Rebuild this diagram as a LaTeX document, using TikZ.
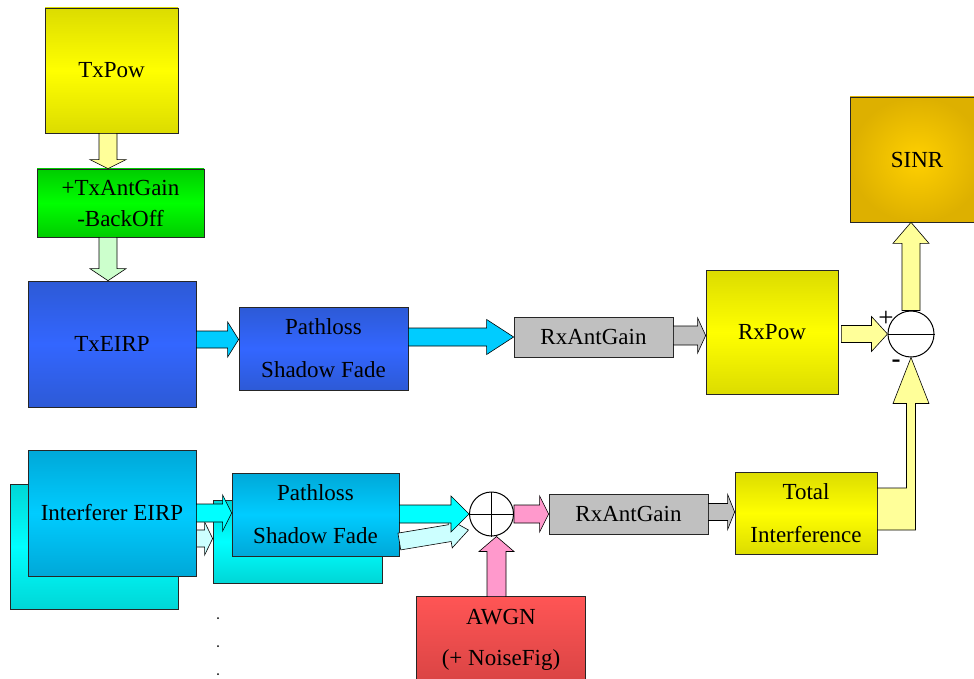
\documentclass[tikz,border=0pt]{standalone}
\usepackage{fontspec}
\setmainfont{Liberation Serif}
\usetikzlibrary{calc}

% box colours (edge / middle of each gradient)
\definecolor{yelE}{HTML}{DCDC00}
\definecolor{yelM}{HTML}{FFFF00}
\definecolor{grnE}{HTML}{00CC00}
\definecolor{grnM}{HTML}{00FF00}
\definecolor{bluE}{HTML}{2D5AD6}
\definecolor{bluM}{HTML}{3366FF}
\definecolor{skyE}{HTML}{00A8D8}
\definecolor{skyM}{HTML}{00CCFF}
\definecolor{cyaE}{HTML}{00D6D6}
\definecolor{cyaM}{HTML}{00FFFF}
\definecolor{redT}{HTML}{FF5555}
\definecolor{redB}{HTML}{D94444}
\definecolor{golE}{HTML}{DDB000}
\definecolor{golM}{HTML}{FFD000}
\definecolor{grayF}{HTML}{C0C0C0}
% arrow fills
\definecolor{paleY}{HTML}{FFFF99}
\definecolor{paleG}{HTML}{CCFFCC}
\definecolor{aqua}{HTML}{00CCFF}
\definecolor{cyanF}{HTML}{00FFFF}
\definecolor{paleC}{HTML}{CCFFFF}
\definecolor{pinkF}{HTML}{FF99CC}

% block arrow: style, start, end, shaft half width, head half width, head length
\newcommand\blockarrow[6]{%
  \coordinate (ba-s) at #2;
  \coordinate (ba-e) at #3;
  \coordinate (ba-h) at ($(ba-e)!#6!(ba-s)$);
  \draw[#1] ($(ba-s)!#4!90:(ba-e)$) -- ($(ba-h)!#4!90:(ba-e)$)
    -- ($(ba-h)!#5!90:(ba-e)$) -- (ba-e) -- ($(ba-h)!#5!-90:(ba-e)$)
    -- ($(ba-h)!#4!-90:(ba-e)$) -- ($(ba-s)!#4!-90:(ba-e)$) -- cycle;}

\begin{document}
\begin{tikzpicture}[x=1pt,y=-1pt,
  box/.style={draw=black!85, line width=0.7pt, inner sep=0pt, align=center,
    font=\fontsize{23}{27}\selectfont},
  two/.style={font=\fontsize{23}{43}\selectfont},
  yelbox/.style={box, top color=yelE, bottom color=yelE, middle color=yelM},
  grnbox/.style={box, top color=grnE, bottom color=grnE, middle color=grnM},
  blubox/.style={box, top color=bluE, bottom color=bluE, middle color=bluM},
  skybox/.style={box, top color=skyE, bottom color=skyE, middle color=skyM},
  cyabox/.style={box, top color=cyaE, bottom color=cyaE, middle color=cyaM},
  graybox/.style={box, fill=grayF},
  goldbox/.style={box, inner color=golM, outer color=golE},
  redbox/.style={box, draw=none, top color=redT, bottom color=redB},
  opbox/.style={circle, draw=black, line width=1pt, fill=white, inner sep=0pt},
  arr/.style={draw=black, line width=0.6pt, line join=miter},
  sign/.style={inner sep=0pt, font=\fontsize{27}{27}\selectfont}]

\useasboundingbox (0,0) rectangle (974,679);
\clip (0,0) rectangle (974,679);

% ---- desired signal chain ----
\node[yelbox, minimum width=133pt, minimum height=125pt] (txpow) at (111.5,70.5) {TxPow};
\node[grnbox, font=\fontsize{23}{31}\selectfont, minimum width=167pt, minimum height=68pt] (ant) at (120.5,203) {+TxAntGain\\-BackOff};
\node[blubox, minimum width=168pt, minimum height=126pt] (txeirp) at (112,344) {TxEIRP};
\node[blubox, two, minimum width=169pt, minimum height=83pt] (pl1) at (323.5,348.5) {Pathloss\\Shadow Fade};
\node[graybox, minimum width=159pt, minimum height=40pt] (rxg1) at (593.5,337) {RxAntGain};
\node[yelbox, minimum width=132pt, minimum height=124pt] (rxpow) at (772,332) {RxPow};
\node[goldbox, minimum width=134pt, minimum height=125pt] (sinr) at (917,159.5) {SINR};

\blockarrow{arr, fill=paleY}{([xshift=-3.5pt]txpow.south)}{(ba-s |- ant.north)}{9pt}{18pt}{9pt}
\blockarrow{arr, fill=paleG}{([xshift=-12.5pt]ant.south)}{(ba-s |- txeirp.north)}{9pt}{18pt}{12pt}
\blockarrow{arr, fill=aqua}{([yshift=4.5pt]txeirp.east)}{(ba-s -| pl1.west)}{8.5pt}{17.5pt}{11pt}
\blockarrow{arr, fill=aqua}{(pl1.east |- rxg1.west)}{(rxg1.west)}{9pt}{17.5pt}{27pt}
\blockarrow{arr, fill=grayF}{([yshift=1.5pt]rxg1.east)}{(ba-s -| rxpow.west)}{9.5pt}{17.5pt}{8pt}

% ---- interference chain ----
\node[cyabox, minimum width=168pt, minimum height=125pt] (ieb) at (94,546.5) {};
\node[cyabox, minimum width=169pt, minimum height=83pt] (plb) at (297.5,541.5) {};
\coordinate (ilt) at ($(plb.west)+(0,-3)$);
\blockarrow{arr, fill=paleC}{(ieb.east |- ilt)}{(ilt)}{8.5pt}{16.5pt}{8pt}
\node[skybox, minimum width=168pt, minimum height=126pt] (ie) at (112,513) {Interferer EIRP};
\node[skybox, two, minimum width=167pt, minimum height=83pt] (pl2) at (315.5,514.5) {Pathloss\\Shadow Fade};
\blockarrow{arr, fill=cyanF}{(ie.east)}{(ie.east -| pl2.west)}{9pt}{18pt}{9pt}

\node[graybox, minimum width=159pt, minimum height=40pt] (rxg2) at (628.5,514) {RxAntGain};
\node[yelbox, two, minimum width=142pt, minimum height=82pt] (tot) at (806,513) {Total\\Interference};
\node[redbox, font=\fontsize{23}{41}\selectfont, minimum width=168pt, minimum height=86pt] (awgn) at (501,640) {AWGN\\(+ NoiseFig)};
\draw[black!85, line width=0.7pt] (awgn.south west) -- (awgn.north west) -- (awgn.north east) -- (awgn.south east);

% summing junction and its inputs
\coordinate (sumc) at (491.5,514);
\coordinate (slant) at ($(sumc)+(-23,16)$);
\blockarrow{arr, fill=paleC}{([yshift=-27pt]pl2.east)}{(slant)}{8.5pt}{15pt}{19pt}
\node[opbox, minimum size=44pt] (sum) at (sumc) {};
\blockarrow{arr, fill=cyanF}{(pl2.east |- sum.west)}{(sum.west)}{9pt}{18pt}{18pt}
\draw[line width=1pt] (sum.west) -- (sum.east) (sum.north) -- (sum.south);
\coordinate (nz) at ($(sum.south)+(5,0)$);
\blockarrow{arr, fill=pinkF}{(nz |- awgn.north)}{(nz)}{9.5pt}{17.5pt}{15pt}
\blockarrow{arr, fill=pinkF}{(sum.east)}{(sum.west -| rxg2.west)}{9pt}{18pt}{9pt}
\blockarrow{arr, fill=grayF}{([yshift=2pt]rxg2.east)}{(ba-s -| tot.west)}{8.5pt}{17.5pt}{7pt}

% ---- subtraction and SINR ----
\node[opbox, minimum size=46pt] (sub) at (911,334) {};
\draw[line width=1pt] (sub.west) -- (sub.east);
\blockarrow{arr, fill=paleY}{([xshift=3pt]rxpow.east |- sub.west)}{(sub.west)}{8.5pt}{17.5pt}{16pt}
\blockarrow{arr, fill=paleY}{(sub.north)}{(sub.north |- sinr.south)}{9pt}{18pt}{21pt}

% bent arrow from the interference total up into the subtractor
\coordinate (bt) at ($(tot.east)+(0,-25)$);
\coordinate (bb) at ($(tot.east)+(0,17)$);
\coordinate (vl) at ($(sub.south)+(-4.5,46)$);
\coordinate (vr) at ($(sub.south)+(4.5,46)$);
\draw[arr, fill=paleY] (bt) -- (vl |- bt) -- (vl) -- ($(vl)+(-13.5,0)$) -- (sub.south)
  -- ($(vr)+(13.5,0)$) -- (vr) -- (vr |- bb) -- (bb) -- cycle;

\node[sign] (plus) at (886,319) {+};
\node[sign] (minus) at (896,364) {\textbf{-}};

% further interferers
\fill (218,618) circle (1pt) (218,646) circle (1pt) (218,674) circle (1pt);
\end{tikzpicture}
\end{document}
